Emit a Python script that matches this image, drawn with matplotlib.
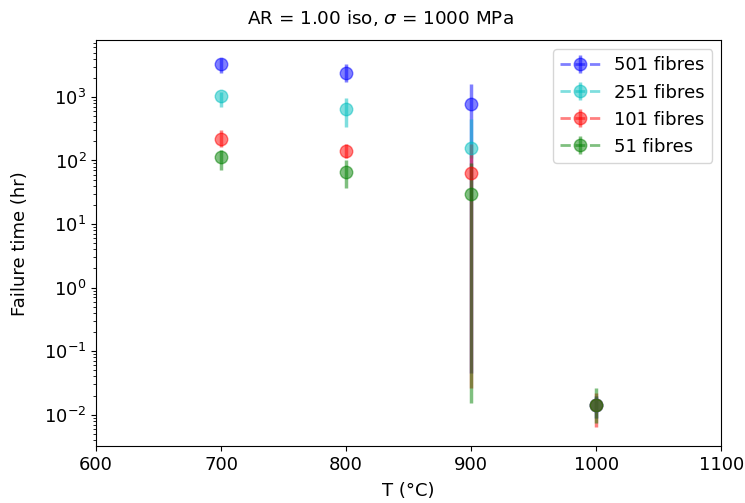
import numpy as np
import matplotlib
matplotlib.use('Agg')
import matplotlib.pyplot as plt

# temperatures (deg C)
temps = [700, 800, 900, 1000]

# mean failure time (hr) per fibre count
labels = ['501 fibres', '251 fibres', '101 fibres', '51 fibres']
colours = ['b', 'c', 'r', 'g']
t501 = [3280, 2370, 780, 0.0140]
t251 = [1030, 650, 160, 0.0140]
t101 = [220, 143, 63, 0.0142]
t51 = [115, 67, 29.5, 0.0140]

# upper / lower ends of the error bars
hi501 = [4100, 3280, 1600, 0.020]
lo501 = [2370, 1720, 0.045, 0.009]
hi251 = [1200, 970, 450, 0.020]
lo251 = [700, 340, 110, 0.009]
hi101 = [305, 185, 180, 0.022]
lo101 = [165, 110, 0.026, 0.0065]
hi51 = [148, 100, 90, 0.026]
lo51 = [72, 37, 0.0154, 0.0075]

series = [(t501, hi501, lo501), (t251, hi251, lo251),
          (t101, hi101, lo101), (t51, hi51, lo51)]

fig = plt.figure(figsize=(7.45, 5.03), dpi=100)
ax = fig.add_axes([0.129, 0.113, 0.839, 0.807])

for (vals, hi, lo), col, lab in zip(series, colours, labels):
    vals = np.array(vals)
    err = np.array([vals - np.array(lo), np.array(hi) - vals])
    # each point on its own so no connecting lines are drawn
    for i, T in enumerate(temps):
        ax.errorbar([T], [vals[i]], yerr=err[:, i:i + 1], fmt='o', ls='--',
                    color=col, alpha=0.5, ms=9, elinewidth=2.5, lw=2,
                    label=lab if i == 0 else None)

ax.set_yscale('log')
ax.set_xlim(600, 1100)
ax.set_ylim(3.2e-3, 7.8e3)
ax.set_xticks([600, 700, 800, 900, 1000, 1100])
ax.tick_params(labelsize=13)
ax.set_xlabel('T (°C)', fontsize=13, labelpad=6)
ax.set_ylabel('Failure time (hr)', fontsize=13, labelpad=11)
fig.text(380 / 745, 1 - 18 / 503, r'AR = 1.00 iso, $\sigma$ = 1000 MPa',
         fontsize=13.2, ha='center', va='center')
ax.legend(loc='upper right', fontsize=13, handlelength=2.2)

fig.savefig('out.png', dpi=100)
